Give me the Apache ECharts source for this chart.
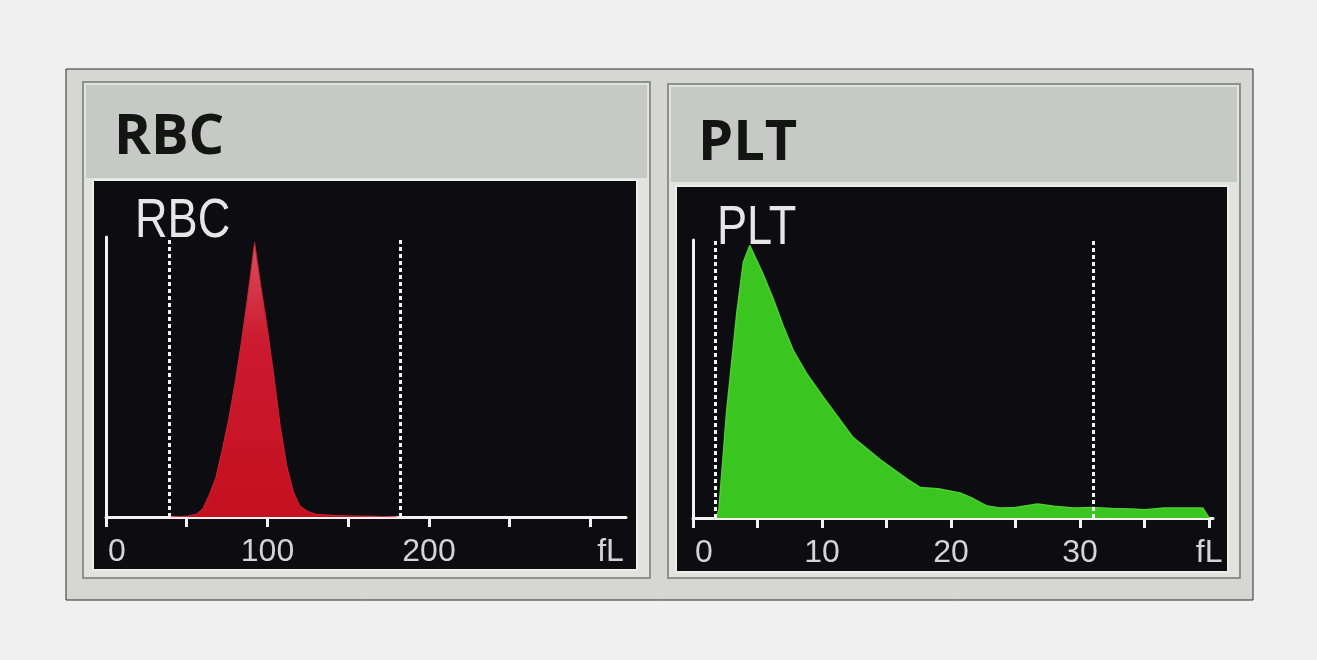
<!DOCTYPE html>
<html>
<head>
<meta charset="utf-8">
<script src="https://cdn.jsdelivr.net/npm/echarts@6/dist/echarts.min.js"></script>
<style>
  html, body { margin: 0; padding: 0; background: #f0f0f0; }
  #chart { width: 1317px; height: 660px; }
</style>
</head>
<body>
<div id="chart"></div>
<script>
// RBC histogram (fL -> relative count)
const rbcSize  = [40, 50, 56, 60, 64, 68, 72, 76, 80, 84, 88, 92, 96, 100, 104, 108, 112, 116, 120, 125, 130, 140, 150, 165, 180];
const rbcCount = [0, 0.3, 1, 3, 8, 14, 24, 35, 48, 63, 80, 98, 82, 67, 50, 32, 18, 9, 4, 2, 1, 0.6, 0.4, 0.3, 0];
// PLT histogram
const pltSize  = [1.8, 2.0, 2.3, 2.6, 3.0, 3.4, 3.9, 4.4, 5.4, 6.2, 7.0, 7.8, 8.8, 10.1, 11.6, 12.4, 14.5, 16.6, 17.6, 19.0, 20.7, 21.7, 22.8, 23.8, 25.0, 26.7, 28.0, 29.5, 31.0, 32.5, 34.0, 35.0, 36.5, 38.0, 39.5, 40.0];
const pltCount = [0, 3, 20, 38, 56, 74, 92, 98, 88, 79, 69, 60, 52, 43.5, 34, 29, 21, 14, 11, 10.5, 9, 7, 4.3, 3.6, 3.8, 5, 4.2, 3.6, 3.8, 3.4, 3.2, 3.0, 3.6, 3.6, 3.6, 0];

const rbcTicks  = [0, 50, 100, 150, 200, 250, 300];
const rbcLabels = [0, 100, 200, 300];
const pltTicks  = [0, 5, 10, 15, 20, 25, 30, 35, 40];
const pltLabels = [0, 10, 20, 30, 40];
// discriminator lines
const rbcGates = [39, 182];
const pltGates = [1.7, 31];

const sans = '"Liberation Sans", Arial, sans-serif';

function pairs(xs, ys) {
  return xs.map((x, i) => [x, ys[i]]);
}

function xAxisFor(gridIndex, max, ticks, labels, lastOffset) {
  return {
    type: 'value', gridIndex: gridIndex, min: 0, max: max,
    axisLine: { lineStyle: { color: '#f2f2f2', width: 3 } },
    axisTick: { customValues: ticks, length: 10, lineStyle: { color: '#f2f2f2', width: 3 } },
    splitLine: { show: false },
    axisLabel: {
      customValues: labels,
      margin: 19,
      color: '#d4d4d4',
      fontFamily: sans,
      fontSize: 32,
      formatter: function (v) {
        if (v === 0) return '{z|0}';
        if (v === labels[labels.length - 1]) return '{u|fL}';
        return String(v);
      },
      rich: {
        z: { padding: [0, 0, 0, 22], color: '#d4d4d4', fontFamily: sans, fontSize: 32 },
        u: { padding: [0, 0, 0, lastOffset], color: '#d4d4d4', fontFamily: sans, fontSize: 32 }
      }
    }
  };
}

function yAxisFor(gridIndex) {
  return {
    type: 'value', gridIndex: gridIndex, min: 0, max: 100,
    axisLine: { show: true, lineStyle: { color: '#f2f2f2', width: 3 } },
    axisTick: { show: false },
    axisLabel: { show: false },
    splitLine: { show: false }
  };
}

function gateLines(values) {
  return {
    silent: true,
    symbol: ['none', 'none'],
    label: { show: false },
    lineStyle: { color: '#f4f4f4', width: 3, type: [4, 3] },
    data: values.map(v => ({ xAxis: v }))
  };
}

const chart = echarts.init(document.getElementById('chart'));

chart.setOption({
  backgroundColor: '#f0f0f0',
  animation: false,
  graphic: [
    // photo area
    { type: 'rect', z: -20, shape: { x: 66, y: 69, width: 1187, height: 531 },
      style: { fill: '#d6d7d3', stroke: '#2a2a2a', lineWidth: 1 } },
    // RBC panel
    { type: 'rect', z: -19, shape: { x: 83, y: 82, width: 567, height: 496 },
      style: { fill: '#e2e3df', stroke: '#8f918d', lineWidth: 2 } },
    { type: 'rect', z: -18, shape: { x: 86, y: 85, width: 561, height: 93 },
      style: { fill: '#c7c9c6' } },
    { type: 'rect', z: -17, shape: { x: 93, y: 180, width: 544, height: 390 },
      style: { fill: '#0d0d11', stroke: '#eceeea', lineWidth: 2 } },
    // PLT panel
    { type: 'rect', z: -19, shape: { x: 668, y: 84, width: 572, height: 494 },
      style: { fill: '#e2e3df', stroke: '#8f918d', lineWidth: 2 } },
    { type: 'rect', z: -18, shape: { x: 671, y: 87, width: 566, height: 95 },
      style: { fill: '#c7c9c6' } },
    { type: 'rect', z: -17, shape: { x: 676, y: 186, width: 552, height: 386 },
      style: { fill: '#0d0d11', stroke: '#eceeea', lineWidth: 2 } },
    // titles
    { type: 'text', z: 10, left: 114, top: 110,
      style: { text: 'RBC', fill: '#141414', font: 'bold 56px "Open Sans", sans-serif' } },
    { type: 'text', z: 10, left: 698, top: 116,
      style: { text: 'PLT', fill: '#141414', font: 'bold 56px "Open Sans", sans-serif' } },
    { type: 'text', z: 10, x: 135, y: 194, scaleX: 0.82,
      style: { text: 'RBC', fill: '#e6e6e6', font: '55px ' + sans } },
    { type: 'text', z: 10, x: 717, y: 201, scaleX: 0.82,
      style: { text: 'PLT', fill: '#e6e6e6', font: '55px ' + sans } }
  ],
  grid: [
    { left: 106, top: 237, width: 520, height: 280 },
    { left: 693, top: 240, width: 520, height: 278 }
  ],
  xAxis: [
    xAxisFor(0, 322, rbcTicks, rbcLabels, 40),
    xAxisFor(1, 40.3, pltTicks, pltLabels, 0)
  ],
  yAxis: [yAxisFor(0), yAxisFor(1)],
  series: [
    {
      name: 'RBC', type: 'line', xAxisIndex: 0, yAxisIndex: 0,
      data: pairs(rbcSize, rbcCount),
      symbol: 'none', smooth: false,
      lineStyle: { color: '#cf2236', width: 1 },
      areaStyle: {
        opacity: 1,
        color: new echarts.graphic.LinearGradient(0, 0, 0, 1, [
          { offset: 0, color: '#d9515d' },
          { offset: 0.35, color: '#cc1a30' },
          { offset: 1, color: '#c4101f' }
        ])
      },
      markLine: gateLines(rbcGates)
    },
    {
      name: 'PLT', type: 'line', xAxisIndex: 1, yAxisIndex: 1,
      data: pairs(pltSize, pltCount),
      symbol: 'none', smooth: false,
      lineStyle: { color: '#4ccf30', width: 1.5 },
      areaStyle: { opacity: 1, color: '#3bc520' },
      markLine: gateLines(pltGates)
    }
  ]
});
</script>
</body>
</html>
